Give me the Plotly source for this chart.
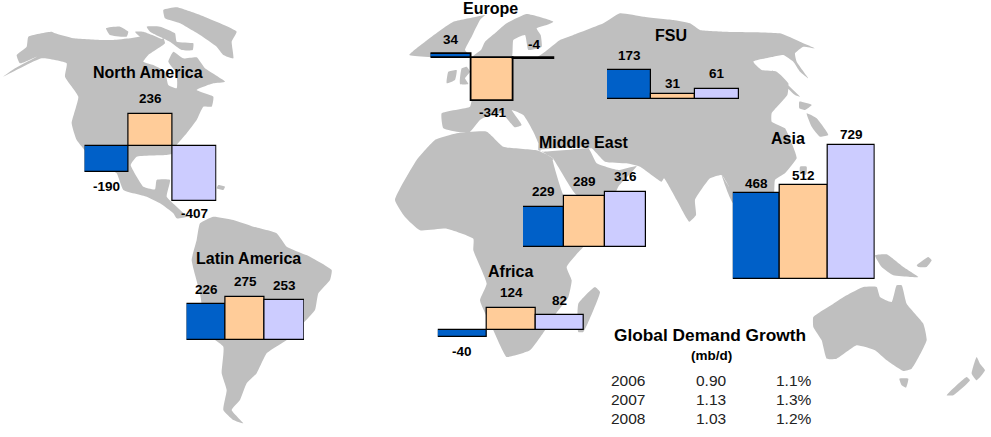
import plotly.graph_objects as go

# ---------- data ----------
years = ["2006", "2007", "2008"]
north_america = [-190, 236, -407]
latin_america = [226, 275, 253]
europe = [34, -341, -4]
fsu = [173, 31, 61]
middle_east = [229, 289, 316]
asia = [468, 512, 729]
africa = [-40, 124, 82]
table_years = ["2006", "2007", "2008"]
table_growth = ["0.90", "1.13", "1.03"]
table_pct = ["1.1%", "1.3%", "1.2%"]

W, H = 991, 437
BLUE, PEACH, LAV = "#0060C8", "#FFCC99", "#CCCCFF"
LAND = "#BFBFBF"
FONT = "Liberation Sans"


def z(ox, oy, pts):
    return [(ox + a / 3, oy + b / 3) for a, b in pts]


# ---------- map outlines (decorative backdrop, traced in page pixels) ----------
land = [
    # North + Central America
    z(0, 0, [(10,230),(45,205),(110,170),(60,190),(50,165),(80,140),(85,110),(155,95),(165,100),(220,115),(300,120),(340,120),
             (390,115),(420,110),(470,125),(490,115),(495,130),(445,165),(430,185),(460,195),(495,215),(505,255),(530,265),
             (530,220),(505,185),(520,155),(550,175),(590,172),(615,205),(675,245),(640,250),(590,270),(640,290),(635,320),
             (610,320),(590,360),(560,400),(530,435),(515,462),(500,465),(410,470),
             (392,495),(410,530),(430,560),(465,568),(470,540),(510,540),(500,590),(530,620),(560,650),(530,655),(520,640),
             (480,610),(440,590),(370,570),(350,520),(320,505),(290,490),(230,420),(215,370),(235,290),(195,230),(200,190),
             (125,175)]),
    z(0, 0, [(318,85),(360,80),(385,95),(380,110),(330,105)]),
    z(0, 0, [(405,95),(430,95),(490,120),(470,125),(420,110)]),
    z(0, 0, [(440,80),(480,80),(525,100),(530,125),(580,130),(578,150),(545,150),(510,125),(450,95)]),
    z(0, 0, [(490,30),(530,22),(600,45),(710,95),(695,125),(700,175),(670,165),(650,140),(600,105),(540,70),(495,55)]),
    z(0, 0, [(655,555),(675,560),(670,570),(650,565)]),
    # South America
    z(0, 0, [(600,670),(640,650),(700,660),(760,680),(830,700),(860,740),(930,770),(995,810),(990,840),(955,880),(945,930),
             (900,980),(860,1020),(800,1060),(770,1120),(740,1150),(720,1200),(695,1230),(730,1270),(700,1260),(670,1230),
             (680,1170),(665,1120),(670,1040),(620,1000),(600,880),(575,780),(590,720)]),
    # Scandinavia and Finland
    z(400, 0, [(28,165),(75,125),(115,95),(160,65),(230,50),(255,45),(240,60),(215,110),(195,150),(215,172)]),
    z(400, 0, [(243,150),(255,125),(290,95),(320,70),(380,42),(460,65),(440,75),(410,85),(422,105),(425,140),(385,150),
               (375,105),(340,120),(335,172),(215,172)]),
    # UK, Ireland
    z(400, 0, [(185,205),(200,200),(210,215),(195,235),(205,252),(180,252)]),
    z(400, 0, [(145,215),(170,210),(165,240),(140,250)]),
    # Eurasia
    z(400, 0, [(215,172),(410,172),(480,120),(520,105),(610,70),(660,40),(730,50),(820,60),(870,70)])
    + z(700, 30, [(0,0),(70,5),(240,10),(300,35),(345,55),(310,50),(285,70),(290,95),(325,145),(300,125),(280,95),(250,75),
                  (220,80),(160,95),(185,120),(230,125),(265,160),(262,195),(215,250),(215,275),(255,295),(285,365),(290,385),
                  (255,430),(225,450),(220,500),(100,520),(65,435)])
    + z(530, 130, [(600,175),(575,135),(540,145),(495,210),(498,255),(478,275),(440,210),(402,145),(395,155),(330,110),
                   (290,100),(225,95),(185,55),(170,55)])
    + z(530, 130, [(40,65),(25,60)])
    + z(400, 0, [(415,430),(400,395),(370,345),(335,330),(365,375),(345,382),(305,340),(270,345),(240,360),(210,395),(180,397),
                 (130,385),(125,340),(210,320),(215,300)]),
    # Arabia
    z(530, 130, [(30,60),(68,85),(140,195),(250,200),(265,170),(320,108),(265,120),(200,100),(175,55)]),
    # Africa
    z(390, 0, [(135,420),(200,400),(290,395),(340,440),(445,452),(490,475)])
    + z(530, 130, [(68,90),(100,195),(180,300),(285,250)])
    + z(390, 217, [(580,90),(530,150),(545,190),(535,240),(490,300),(465,340),(420,400),(350,420),(335,395),(310,340),(270,250),
                   (290,200),(250,100),(250,65),(170,35),(90,40),(45,0)])
    + z(390, 0, [(15,600),(80,480)]),
    z(390, 217, [(565,345),(565,260),(615,210),(630,225),(610,280),(580,345)]),
    # Sakhalin, Japan and other islands
    z(700, 30, [(215,120),(300,200),(285,195),(225,135)]),
    z(700, 30, [(298,215),(335,225),(315,240),(298,235)]),
    z(700, 30, [(320,250),(350,265),(385,315),(360,320),(335,290)]),
    z(700, 30, [(300,410),(320,410),(318,435),(300,430)]),
    # Oceania
    z(690, 217, [(370,300),(430,260),(470,235),(520,210),(560,210),(570,240),(605,255),(620,205),(635,205),(650,260),(700,320),
                 (710,370),(665,455),(640,462),(590,430),(555,400),(500,385),(440,425),(410,425),(395,370),(370,330)]),
    z(690, 217, [(628,485),(655,485),(648,512),(635,505)]),
    z(690, 217, [(555,115),(590,112),(640,150),(685,180),(660,180),(610,175),(575,150)]),
    z(690, 217, [(680,145),(715,120),(725,130),(710,150),(685,150)]),
    z(690, 217, [(770,535),(830,480),(840,490),(790,535)]),
    z(690, 217, [(845,470),(860,420),(870,440),(885,460),(860,490)]),
]


def flat(polys):
    xs, ys = [], []
    for p in polys:
        xs += [q[0] for q in p] + [p[0][0], None]
        ys += [q[1] for q in p] + [p[0][1], None]
    return xs, ys


fig = go.Figure()
xs, ys = flat(land)
fig.add_trace(go.Scatter(x=xs, y=ys, mode="lines", fill="toself", fillcolor=LAND,
                         line=dict(width=0, color=LAND, shape="spline", smoothing=0.4),
                         hoverinfo="skip", showlegend=False))

layout = dict(
    width=W, height=H, margin=dict(l=0, r=0, t=0, b=0), paper_bgcolor="white", plot_bgcolor="rgba(0,0,0,0)",
    showlegend=False, bargap=0,
    xaxis=dict(range=[0, W], domain=[0, 1], visible=False),
    yaxis=dict(range=[H, 0], domain=[0, 1], visible=False),
)

# values, x-left px, x-right px, baseline px, px per unit, label offsets (px, away from the bar end), stroke
panels = [
    (north_america, 84.5, 216.5, 146, 0.135, [15, 16, 13], 1.2),
    (latin_america, 186.5, 304, 340, 0.158, [15, 15, 15], 1.2),
    (europe, 430.5, 554.5, 58.3, 0.125, [15, 12, -14], 1.8),
    (fsu, 607, 739, 99, 0.167, [15, 10, 15], 1.2),
    (middle_east, 523, 646, 246.8, 0.175, [15, 15, 15], 1.2),
    (asia, 732.8, 874.8, 278.8, 0.183, [10, 10, 11], 1.2),
    (africa, 437.8, 584.2, 329.8, 0.176, [15, 15, 15], 1.2),
]
annotations = []
for i, (vals, x0, x1, base, s, offs, lw) in enumerate(panels, start=2):
    fig.add_trace(go.Bar(x=years, y=vals, xaxis=f"x{i}", yaxis=f"y{i}", cliponaxis=False,
                         marker=dict(color=[BLUE, PEACH, LAV], line=dict(color="black", width=lw)),
                         hovertemplate="%{x}: %{y}<extra></extra>"))
    layout[f"xaxis{i}"] = dict(domain=[x0 / W, x1 / W], range=[-0.5, 2.5], type="category", visible=False, anchor=f"y{i}")
    layout[f"yaxis{i}"] = dict(domain=[0, 1], range=[(base - H) / s, base / s], visible=False, anchor=f"x{i}")
    for j, (v, o) in enumerate(zip(vals, offs)):
        annotations.append(dict(x=j, y=v, xref=f"x{i}", yref=f"y{i}", text=f"<b>{v}</b>", showarrow=False,
                                yshift=o if v > 0 else -o, font=dict(family=FONT, size=13.5, color="black"),
                                xanchor="center", yanchor="middle"))


def page_text(txt, x, y, size, bold=True, color="black"):
    annotations.append(dict(x=x / W, y=1 - y / H, xref="paper", yref="paper", showarrow=False,
                            text=f"<b>{txt}</b>" if bold else txt, xanchor="center", yanchor="middle",
                            font=dict(family=FONT, size=size, color=color)))


titles = ["North America", "Latin America", "Europe", "FSU", "Middle East", "Africa", "Asia"]
title_pos = [(148, 72), (248, 258), (490, 8), (671, 36), (584, 143), (510, 271), (788, 138)]
for t, (x, y) in zip(titles, title_pos):
    page_text(t, x, y, 16)
page_text("Global Demand Growth", 709.5, 335, 17.3)
page_text("(mb/d)", 711, 355.5, 13.5)
for y, a, b, c in zip((380, 399, 418), table_years, table_growth, table_pct):
    page_text(a, 627.5, y, 15.5, bold=False, color="#222222")
    page_text(b, 711, y, 15.5, bold=False, color="#222222")
    page_text(c, 794, y, 15.5, bold=False, color="#222222")

layout["annotations"] = annotations
fig.update_layout(**layout)
fig.write_html("out.html", config={"displayModeBar": False},
               post_script="document.body.style.margin='0';document.body.style.overflow='hidden';")
